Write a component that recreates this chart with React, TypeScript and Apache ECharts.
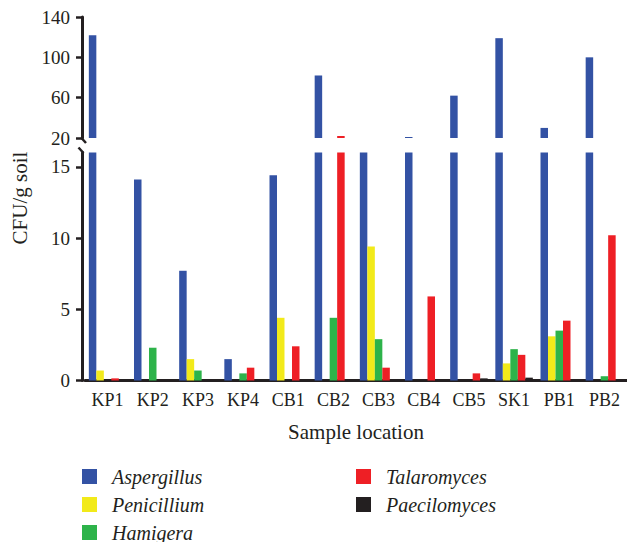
import React, { useEffect, useRef } from "react";
import * as echarts from "echarts";

const categories = ["KP1", "KP2", "KP3", "KP4", "CB1", "CB2", "CB3", "CB4", "CB5", "SK1", "PB1", "PB2"];
const seriesNames = ["Aspergillus", "Penicillium", "Hamigera", "Talaromyces", "Paecilomyces"];
const aspergillus = [122, 14.1, 7.7, 1.5, 14.4, 82, 16, 21, 62, 119, 30, 100];
const penicillium = [0.7, 0, 1.5, 0, 4.4, 0, 9.4, 0, 0, 1.2, 3.1, 0];
const hamigera = [0, 2.3, 0.7, 0.5, 0, 4.4, 2.9, 0, 0, 2.2, 3.5, 0.3];
const talaromyces = [0.15, 0, 0, 0.9, 2.4, 22, 0.9, 5.9, 0.5, 1.8, 4.2, 10.2];
const paecilomyces = [0, 0, 0, 0, 0, 0, 0, 0, 0.15, 0.2, 0, 0];
const colors = ["#3352A4", "#F2EA1A", "#2DB34A", "#EE1F25", "#231F20"];
const upperTicks = [20, 60, 100, 140];
const lowerTicks = [0, 5, 10, 15];

const FONT = "Liberation Serif";

export default function App() {
  const ref = useRef<HTMLDivElement>(null);
  useEffect(() => {
    if (!ref.current) return;
    const chart = echarts.init(ref.current, null, { renderer: "svg" });
    const allData = [aspergillus, penicillium, hamigera, talaromyces, paecilomyces];
    const series: any[] = [];
    [0, 1].forEach((g) => {
      allData.forEach((d, i) => {
        series.push({
          type: "bar",
          name: seriesNames[i],
          xAxisIndex: g,
          yAxisIndex: g,
          data: d,
          barWidth: 7.5,
          barGap: "0%",
          clip: true,
          itemStyle: { color: colors[i] },
        });
      });
    });
    const yCommon = {
      type: "value",
      offset: 3,
      splitLine: { show: false },
      axisLine: { show: true, lineStyle: { color: "#231F20", width: 3 } },
      axisTick: { show: true, length: 6, lineStyle: { color: "#231F20", width: 2.5 } },
    };
    const legendCommon = {
      orient: "vertical",
      padding: 0,
      itemWidth: 15,
      itemHeight: 15,
      itemGap: 8,
      height: 120,
      icon: "rect",
      selectedMode: false,
      textStyle: {
        fontFamily: FONT,
        fontStyle: "italic",
        fontSize: 20,
        color: "#231F20",
        padding: [0, 0, 0, 10],
      },
    };
    chart.setOption({
      animation: false,
      grid: [
        { left: 85, width: 544, top: 17, height: 121 },
        { left: 85, width: 544, top: 152.5, height: 228 },
      ],
      xAxis: [
        { type: "category", gridIndex: 0, data: categories, show: false },
        {
          type: "category",
          gridIndex: 1,
          data: categories,
          axisLine: { lineStyle: { color: "#231F20", width: 3 } },
          axisTick: { alignWithLabel: true, length: 5, lineStyle: { color: "#231F20", width: 2.5 } },
          axisLabel: { fontFamily: FONT, fontSize: 18, color: "#231F20", margin: 10, interval: 0 },
          name: "Sample location",
          nameLocation: "middle",
          nameGap: 41,
          nameTextStyle: { fontFamily: FONT, fontSize: 21, color: "#231F20" },
        },
      ],
      yAxis: [
        {
          ...yCommon,
          gridIndex: 0,
          min: 20,
          max: 140,
          axisLabel: { fontFamily: FONT, fontSize: 19, color: "#231F20", margin: 12, customValues: upperTicks },
          axisTick: { ...yCommon.axisTick, customValues: upperTicks },
        },
        {
          ...yCommon,
          gridIndex: 1,
          min: 0,
          max: 16,
          axisLabel: { fontFamily: FONT, fontSize: 19, color: "#231F20", margin: 12, customValues: lowerTicks },
          axisTick: { ...yCommon.axisTick, customValues: lowerTicks },
        },
      ],
      legend: [
        { ...legendCommon, left: 82, top: 466.5, data: seriesNames.slice(0, 3) },
        { ...legendCommon, left: 356, top: 466.5, data: seriesNames.slice(3) },
      ],
      graphic: [
        {
          type: "text",
          x: 20,
          y: 198,
          rotation: Math.PI / 2,
          style: {
            text: "CFU/g soil",
            fontFamily: FONT,
            fontSize: 21,
            fill: "#231F20",
            textAlign: "center",
            textVerticalAlign: "middle",
          },
        },
        {
          type: "line",
          shape: { x1: 81, y1: 137.5, x2: 86, y2: 143 },
          style: { stroke: "#231F20", lineWidth: 2.5 },
        },
        {
          type: "line",
          shape: { x1: 78.5, y1: 147.5, x2: 83.5, y2: 153 },
          style: { stroke: "#231F20", lineWidth: 2.5 },
        },
      ],
      series,
    });
    return () => chart.dispose();
  }, []);
  return (
    <div
      ref={ref}
      style={{ position: "fixed", left: 0, top: 0, width: 627, height: 542, background: "#fff" }}
    />
  );
}
